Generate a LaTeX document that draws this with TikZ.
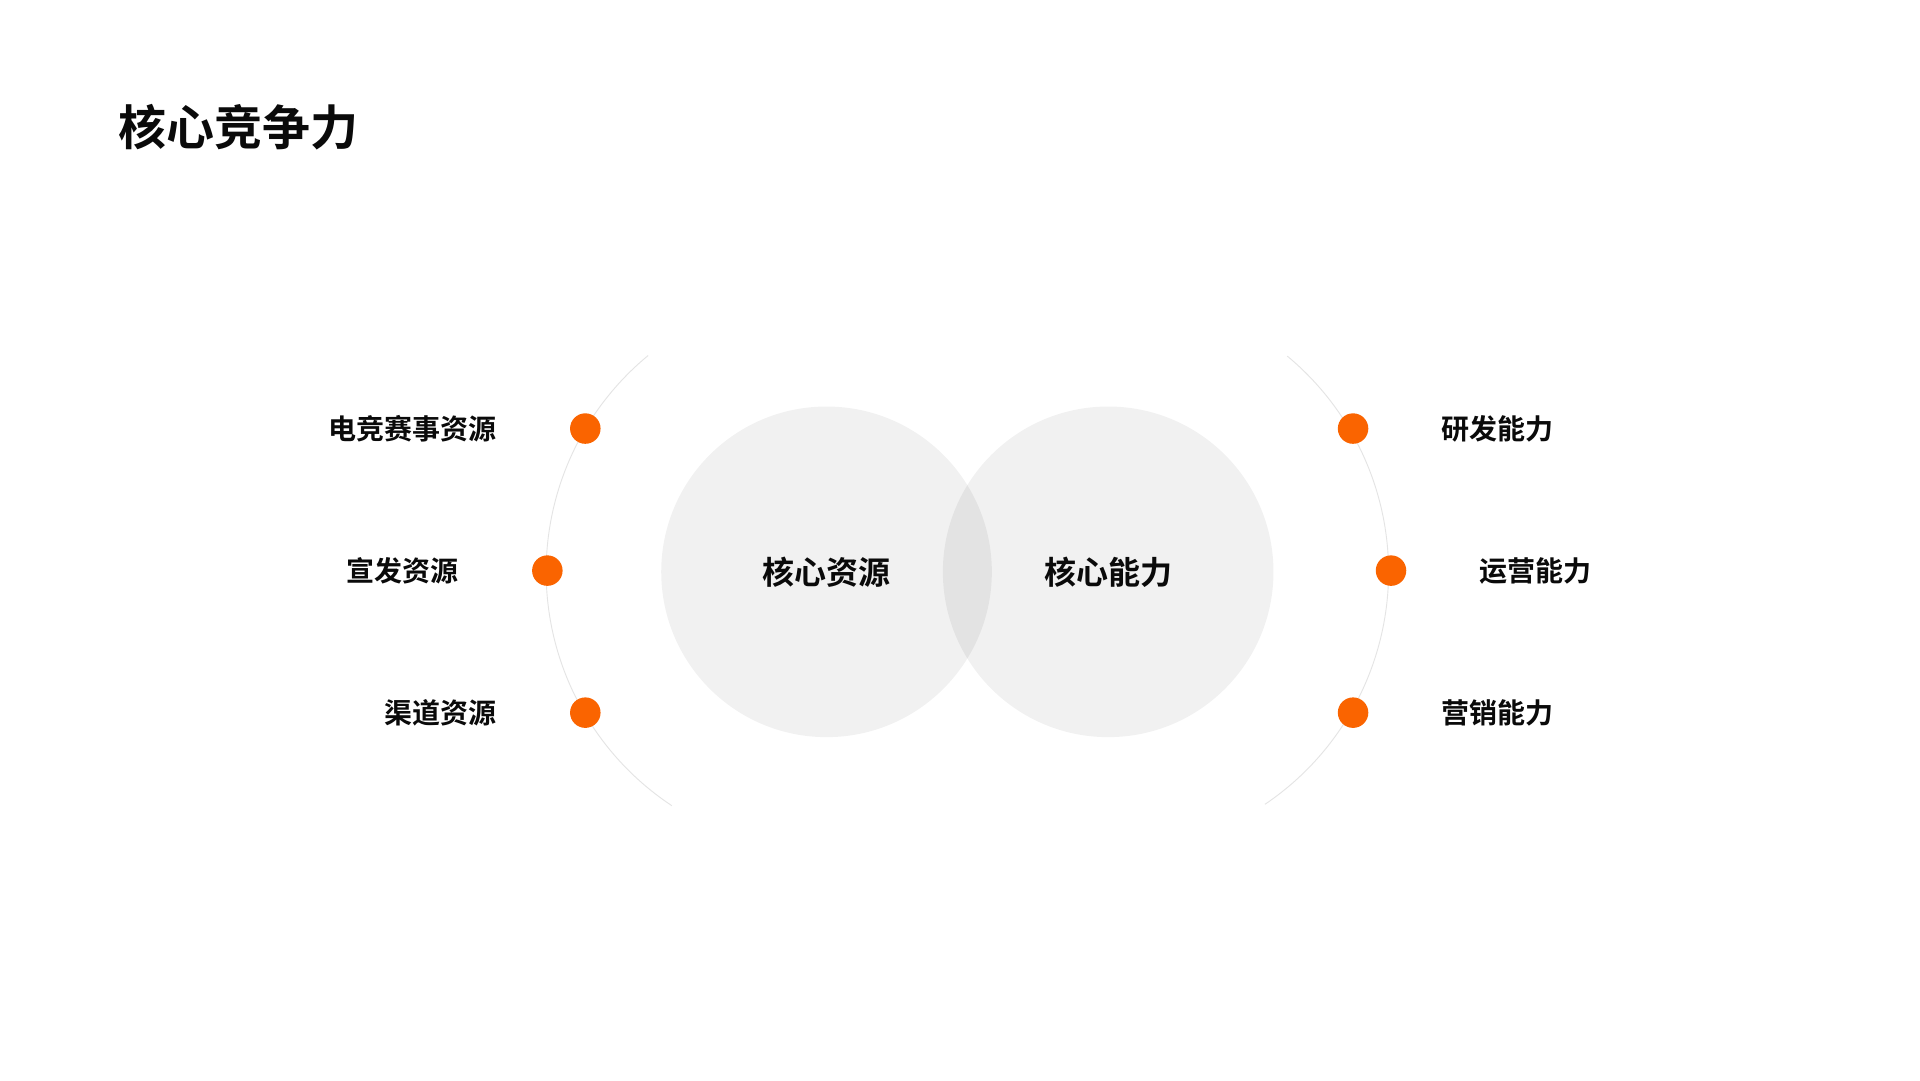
\documentclass[tikz,border=0pt]{standalone}
\usepackage{fontspec}
\usetikzlibrary{calc}
\newfontfamily\cjkb{Noto Sans CJK SC Bold}
\definecolor{dotorange}{RGB}{250,100,0}
\definecolor{arcgray}{RGB}{228,228,228}
\definecolor{txt}{RGB}{10,10,10}
\begin{document}
\begin{tikzpicture}[x=1.2245pt,y=1.2245pt,
  bubble/.style={fill=black,fill opacity=0.055},
  ring/.style={draw=arcgray,line width=0.9pt},
  dot/.style={circle,fill=dotorange,inner sep=0pt,minimum size=30.5pt},
  side/.style={font=\cjkb\fontsize{28}{30}\selectfont,text=txt,inner sep=0pt},
  mid/.style={font=\cjkb\fontsize{32}{34}\selectfont,text=txt,inner sep=0pt},
  title/.style={font=\cjkb\fontsize{48}{50}\selectfont,text=txt,inner sep=0pt,anchor=west}]
\useasboundingbox (0,0) rectangle (1568,882);
\fill[white] (0,0) rectangle (1568,882);
% title
\node[title] (t) at (97,778) {核心竞争力};
% centres
\coordinate (L) at (675,415);
\coordinate (R) at (905,415);
% bubbles
\fill[bubble] (L) circle[radius=135];
\fill[bubble] (R) circle[radius=135];
% rings
\draw[ring] ($(L)+(129.5:229)$) arc[start angle=129.5,end angle=236.5,radius=229];
\draw[ring] ($(R)+(-56:229)$) arc[start angle=-56,end angle=50.3,radius=229];
% centre labels
\node[mid] (cl) at (L) {核心资源};
\node[mid] (cr) at (R) {核心能力};
% dots
\node[dot] (d1) at (478,532) {};
\node[dot] (d2) at (447,416) {};
\node[dot] (d3) at (478,300) {};
\node[dot] (d4) at (1105,532) {};
\node[dot] (d5) at (1136,416) {};
\node[dot] (d6) at (1105,300) {};
% side labels
\node[side,anchor=east] (l1) at (406,532) {电竞赛事资源};
\node[side,anchor=east] (l2) at (375,416) {宣发资源};
\node[side,anchor=east] (l3) at (406,300) {渠道资源};
\node[side,anchor=west] (r1) at (1177,532) {研发能力};
\node[side,anchor=west] (r2) at (1208,416) {运营能力};
\node[side,anchor=west] (r3) at (1177,300) {营销能力};
\end{tikzpicture}
\end{document}
